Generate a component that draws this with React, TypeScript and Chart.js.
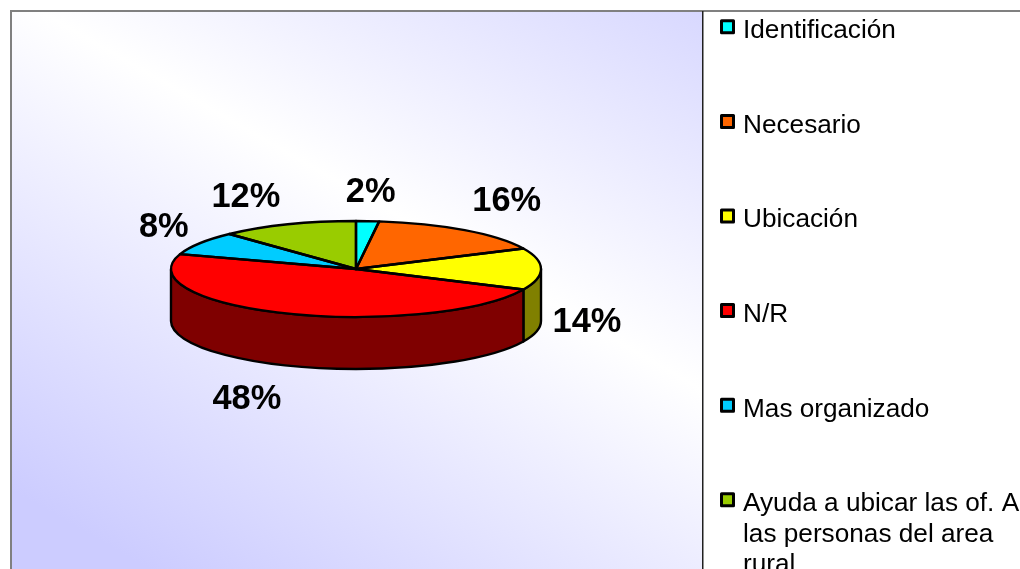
import React, { useEffect, useRef } from "react";
import { Chart, registerables } from "chart.js";

Chart.register(...registerables);

const categories = ["Identificación", "Necesario", "Ubicación", "N/R", "Mas organizado", "Ayuda a ubicar las of. A las personas del area rural"];
const percentages = [2, 16, 14, 48, 8, 12];
const sliceColors = ["#00FFFF", "#FF6600", "#FFFF00", "#FF0000", "#00CCFF", "#99CC00"];
const wallColors = ["#007F7F", "#7F3300", "#808000", "#7F0000", "#00667F", "#4C6600"];
const labelOffsets = [[3, -29], [42, -29], [46, 54], [-41, 86], [-36, -16], [-42, -27]];

const W = 1020, H = 569;
const TILT = 48 / 185;
const DEPTH = 52;
const FONT = '"Liberation Sans", Arial, sans-serif';
const LINE = 2.4;

const pie3d = {
  id: "pie3d",
  beforeDraw(chart: any) {
    const { ctx } = chart;
    const x0 = 11, y0 = 11, x1 = 702, y1 = 569;
    const ux = 0.496, uy = -0.868;
    const d0 = 10, reach = 430;
    const bx = d0 * ux, by = d0 * uy;
    const g = ctx.createLinearGradient(bx + ux * reach, by + uy * reach, bx - ux * reach, by - uy * reach);
    g.addColorStop(0, "#CCCCFF");
    g.addColorStop(0.5, "#FFFFFF");
    g.addColorStop(1, "#CCCCFF");
    ctx.save();
    ctx.fillStyle = "#FFFFFF";
    ctx.fillRect(0, 0, W, H);
    ctx.fillStyle = g;
    ctx.fillRect(x0, y0, x1 - x0, y1 - y0);
    ctx.fillStyle = "#808080";
    ctx.fillRect(10, 10, W - 10, 2);
    ctx.fillRect(10, 10, 2, H - 10);
    ctx.fillStyle = "#202020";
    ctx.fillRect(702, 11, 1.5, H - 11);
    ctx.restore();
  },
  beforeDatasetsDraw(chart: any) {
    const { ctx } = chart;
    const arcs = chart.getDatasetMeta(0).data;
    ctx.save();
    ctx.lineWidth = LINE;
    ctx.strokeStyle = "#000";
    ctx.lineJoin = "round";
    arcs.forEach((a: any, i: number) => {
      const p = a.getProps(["x", "y", "startAngle", "endAngle", "outerRadius"], true);
      const ry = p.outerRadius * TILT;
      const ranges: [number, number][] = [[0, Math.PI], [2 * Math.PI, 3 * Math.PI], [-2 * Math.PI, -Math.PI]];
      ranges.forEach(([lo, hi]) => {
        const s = Math.max(p.startAngle, lo), e = Math.min(p.endAngle, hi);
        if (e <= s) return;
        ctx.beginPath();
        ctx.ellipse(p.x, p.y, p.outerRadius, ry, 0, s, e);
        ctx.lineTo(p.x + p.outerRadius * Math.cos(e), p.y + ry * Math.sin(e) + DEPTH);
        ctx.ellipse(p.x, p.y + DEPTH, p.outerRadius, ry, 0, e, s, true);
        ctx.closePath();
        ctx.fillStyle = wallColors[i];
        ctx.fill();
        ctx.stroke();
      });
    });
    ctx.restore();
    ctx.save();
    const cy = arcs[0].y;
    ctx.translate(0, cy);
    ctx.scale(1, TILT);
    ctx.translate(0, -cy);
  },
  afterDatasetsDraw(chart: any) {
    const { ctx } = chart;
    ctx.restore();
    const arcs = chart.getDatasetMeta(0).data;
    ctx.save();
    ctx.lineWidth = LINE;
    ctx.strokeStyle = "#000";
    ctx.lineJoin = "round";
    arcs.forEach((a: any) => {
      const p = a.getProps(["x", "y", "startAngle", "endAngle", "outerRadius"], true);
      ctx.beginPath();
      ctx.moveTo(p.x, p.y);
      ctx.ellipse(p.x, p.y, p.outerRadius, p.outerRadius * TILT, 0, p.startAngle, p.endAngle);
      ctx.closePath();
      ctx.stroke();
    });
    ctx.fillStyle = "#000";
    ctx.textAlign = "center";
    ctx.textBaseline = "middle";
    ctx.font = `bold 34.4px ${FONT}`;
    arcs.forEach((a: any, i: number) => {
      const p = a.getProps(["x", "y", "startAngle", "endAngle", "outerRadius"], true);
      const mid = (p.startAngle + p.endAngle) / 2;
      const lx = p.x + p.outerRadius * Math.cos(mid) + labelOffsets[i][0];
      const ly = p.y + p.outerRadius * TILT * Math.sin(mid) + labelOffsets[i][1];
      ctx.fillText(`${percentages[i]}%`, lx, ly);
    });
    // legend
    ctx.textAlign = "left";
    ctx.font = `26.2px ${FONT}`;
    categories.forEach((label, i) => {
      const top = 31 + i * 94.6;
      ctx.beginPath();
      ctx.rect(721.5, top - 10.2, 12, 12);
      ctx.fillStyle = sliceColors[i];
      ctx.fill();
      ctx.lineWidth = 3;
      ctx.strokeStyle = "#000";
      ctx.stroke();
      const lines: string[] = [];
      let cur = "";
      label.split(" ").forEach((word) => {
        const next = cur ? `${cur} ${word}` : word;
        if (ctx.measureText(next).width > 278 && cur) {
          lines.push(cur);
          cur = word;
        } else cur = next;
      });
      lines.push(cur);
      ctx.fillStyle = "#000";
      lines.forEach((ln, j) => ctx.fillText(ln, 743, top + j * 30.5));
    });
    ctx.restore();
  },
};

export default function App() {
  const ref = useRef<HTMLCanvasElement>(null);
  useEffect(() => {
    document.body.style.margin = "0";
    const chart = new Chart(ref.current!, {
      type: "pie",
      data: {
        labels: categories,
        datasets: [{ data: percentages, backgroundColor: sliceColors, borderWidth: 0, clip: false } as any],
      },
      options: {
        responsive: false,
        devicePixelRatio: 1,
        animation: false,
        layout: { padding: { left: 171, right: 479, top: 84, bottom: 115 } },
        plugins: { legend: { display: false }, tooltip: { enabled: false } },
      },
      plugins: [pie3d],
    } as any);
    return () => chart.destroy();
  }, []);
  return <canvas ref={ref} width={W} height={H} style={{ position: "absolute", left: 0, top: 0, display: "block" }} />;
}
